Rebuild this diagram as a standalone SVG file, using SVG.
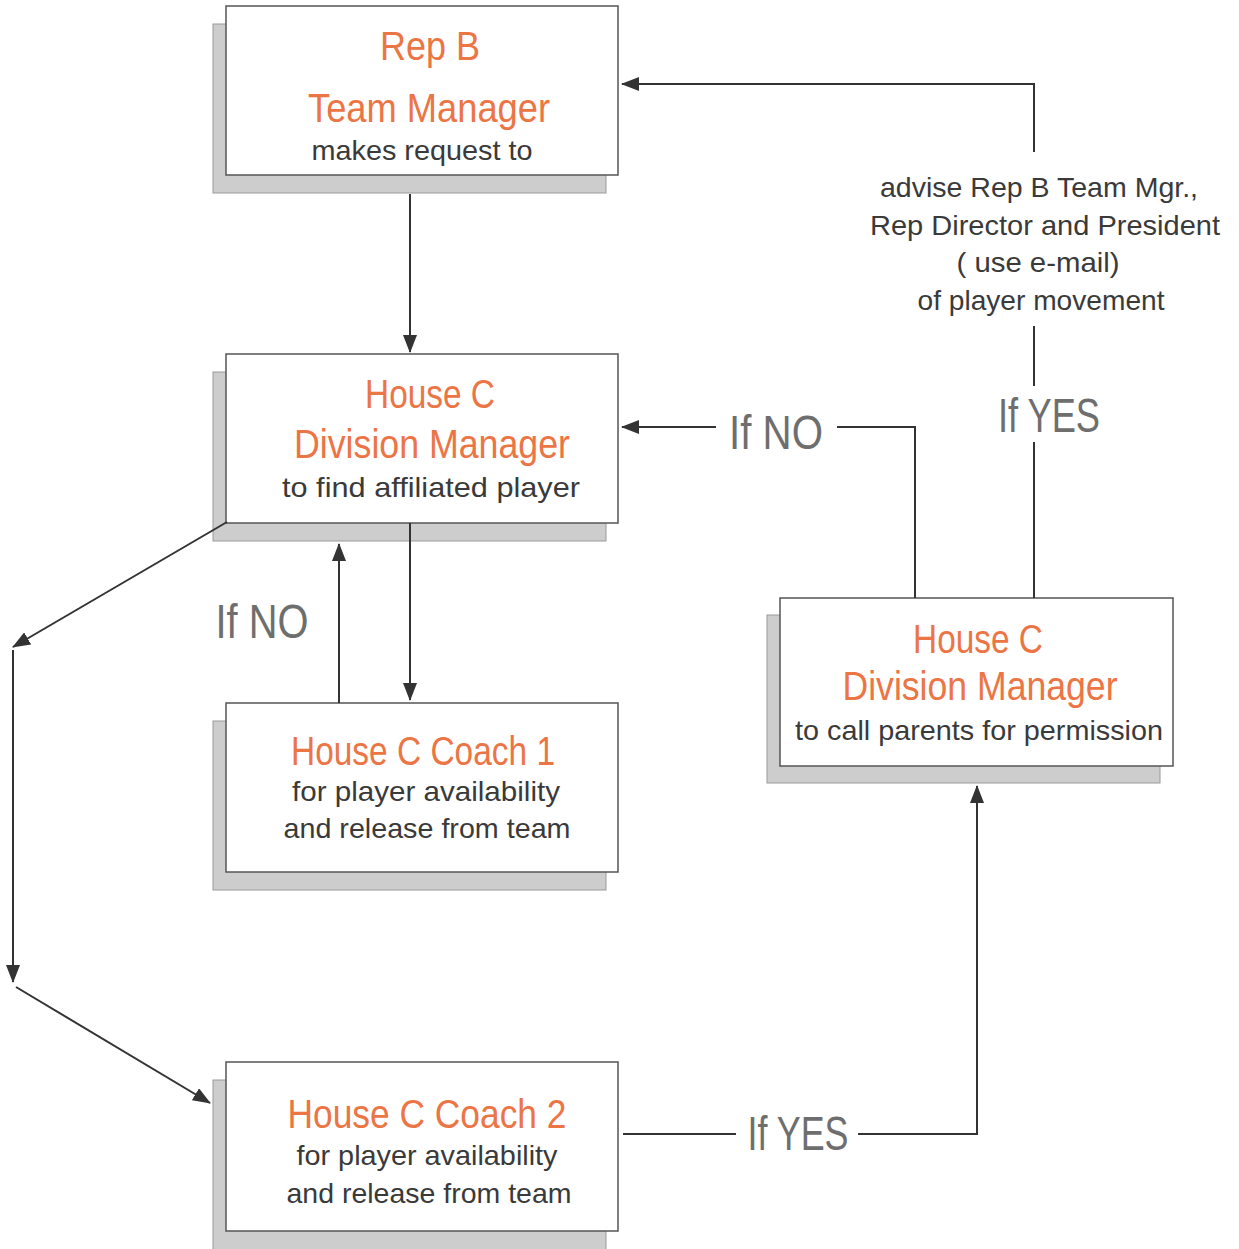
<svg xmlns="http://www.w3.org/2000/svg" width="1239" height="1249" viewBox="0 0 1239 1249">
<style>
.shadow{fill:#cdcdcd;stroke:#9a9a9a;stroke-width:1}
.box{fill:#ffffff;stroke:#555;stroke-width:1.5}
.t{font-family:"Liberation Sans","DejaVu Sans",sans-serif;text-anchor:middle}
.title{fill:#ec7545;font-size:40px}
.sub{fill:#3a3a3a;font-size:28px}
.lbl{fill:#6e6e6e;font-size:48px}
.note{fill:#3a3a3a;font-size:28px}
.con{fill:none;stroke:#333;stroke-width:2}
</style>
<defs>
<marker id="arr" viewBox="0 0 18 14" refX="17" refY="7" markerWidth="18" markerHeight="14" markerUnits="userSpaceOnUse" orient="auto">
<path d="M0,0 L18,7 L0,14 Z" fill="#333"/>
</marker>
</defs>
<g id="rep-b">
<rect class="shadow" x="213" y="24" width="393" height="169"/>
<rect class="box" x="226" y="6" width="392" height="169"/>
<text class="t title" x="430" y="60" textLength="100" lengthAdjust="spacingAndGlyphs">Rep B</text>
<text class="t title" x="429" y="122" textLength="242" lengthAdjust="spacingAndGlyphs">Team Manager</text>
<text class="t sub" x="422" y="160" textLength="221" lengthAdjust="spacingAndGlyphs">makes request to</text>
</g>
<g id="div-mgr-left">
<rect class="shadow" x="213" y="372" width="393" height="169"/>
<rect class="box" x="226" y="354" width="392" height="169"/>
<text class="t title" x="430" y="408" textLength="130" lengthAdjust="spacingAndGlyphs">House C</text>
<text class="t title" x="432" y="458" textLength="276" lengthAdjust="spacingAndGlyphs">Division Manager</text>
<text class="t sub" x="431" y="497" textLength="298" lengthAdjust="spacingAndGlyphs">to find affiliated player</text>
</g>
<g id="coach-1">
<rect class="shadow" x="213" y="721" width="393" height="169"/>
<rect class="box" x="226" y="703" width="392" height="169"/>
<text class="t title" x="423" y="765" textLength="264" lengthAdjust="spacingAndGlyphs">House C Coach 1</text>
<text class="t sub" x="426" y="801" textLength="268" lengthAdjust="spacingAndGlyphs">for player availability</text>
<text class="t sub" x="427" y="838" textLength="287" lengthAdjust="spacingAndGlyphs">and release from team</text>
</g>
<g id="div-mgr-right">
<rect class="shadow" x="767" y="615" width="393" height="168"/>
<rect class="box" x="780" y="598" width="393" height="168"/>
<text class="t title" x="978" y="653" textLength="130" lengthAdjust="spacingAndGlyphs">House C</text>
<text class="t title" x="980" y="700" textLength="275" lengthAdjust="spacingAndGlyphs">Division Manager</text>
<text class="t sub" x="979" y="740" textLength="368" lengthAdjust="spacingAndGlyphs">to call parents for permission</text>
</g>
<g id="coach-2">
<rect class="shadow" x="213" y="1080" width="393" height="175"/>
<rect class="box" x="226" y="1062" width="392" height="169"/>
<text class="t title" x="427" y="1128" textLength="279" lengthAdjust="spacingAndGlyphs">House C Coach 2</text>
<text class="t sub" x="427" y="1165" textLength="261" lengthAdjust="spacingAndGlyphs">for player availability</text>
<text class="t sub" x="429" y="1203" textLength="285" lengthAdjust="spacingAndGlyphs">and release from team</text>
</g>
<g id="connectors">
<line class="con" x1="410" y1="194" x2="410" y2="352" marker-end="url(#arr)"/>
<polyline class="con" points="1034,152 1034,84 622,84" marker-end="url(#arr)"/>
<line class="con" x1="1034" y1="326" x2="1034" y2="386"/>
<line class="con" x1="1034" y1="442" x2="1034" y2="598"/>
<polyline class="con" points="915,598 915,427 837,427"/>
<line class="con" x1="716" y1="427" x2="622" y2="427" marker-end="url(#arr)"/>
<line class="con" x1="410" y1="523" x2="410" y2="700" marker-end="url(#arr)"/>
<line class="con" x1="339" y1="703" x2="339" y2="544" marker-end="url(#arr)"/>
<line class="con" x1="227" y1="522" x2="13" y2="647" marker-end="url(#arr)"/>
<line class="con" x1="13" y1="650" x2="13" y2="982" marker-end="url(#arr)"/>
<line class="con" x1="16" y1="987" x2="210" y2="1103" marker-end="url(#arr)"/>
<line class="con" x1="623" y1="1134" x2="736" y2="1134"/>
<polyline class="con" points="858,1134 977,1134 977,786" marker-end="url(#arr)"/>
<text class="t lbl" x="1049" y="432" textLength="102" lengthAdjust="spacingAndGlyphs">If YES</text>
<text class="t lbl" x="776" y="449" textLength="94" lengthAdjust="spacingAndGlyphs">If NO</text>
<text class="t lbl" x="262" y="638" textLength="93" lengthAdjust="spacingAndGlyphs">If NO</text>
<text class="t lbl" x="798" y="1150" textLength="101" lengthAdjust="spacingAndGlyphs">If YES</text>
<text class="t note" x="1039" y="197" textLength="318" lengthAdjust="spacingAndGlyphs">advise Rep B Team Mgr.,</text>
<text class="t note" x="1045" y="235" textLength="350" lengthAdjust="spacingAndGlyphs">Rep Director and President</text>
<text class="t note" x="1038" y="272" textLength="163" lengthAdjust="spacingAndGlyphs">( use e-mail)</text>
<text class="t note" x="1041" y="310" textLength="247" lengthAdjust="spacingAndGlyphs">of player movement</text>
</g>
</svg>
